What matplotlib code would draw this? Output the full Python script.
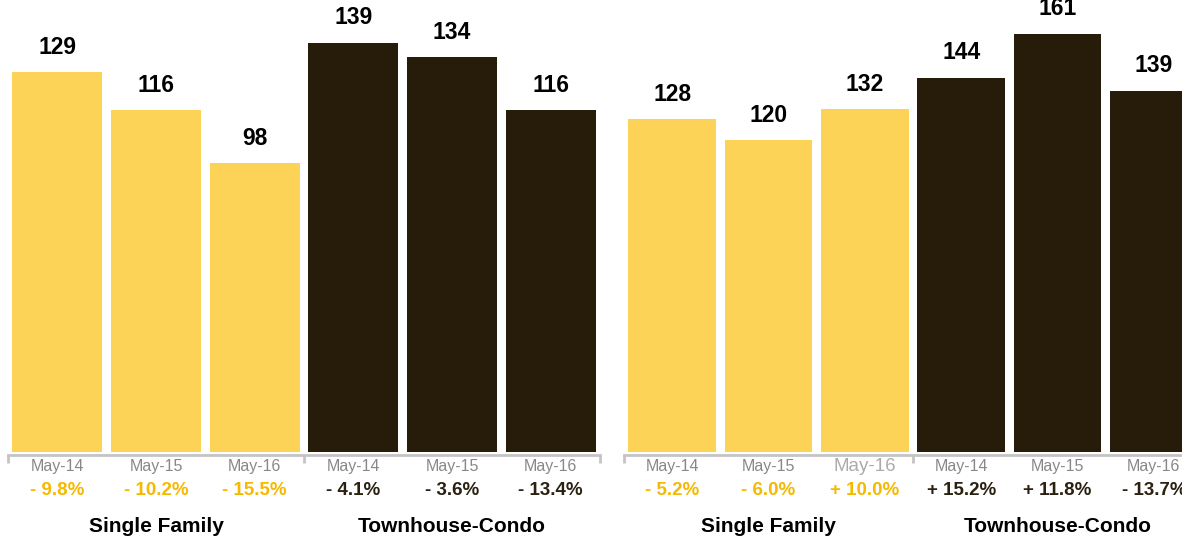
import matplotlib
matplotlib.use("Agg")
import matplotlib.pyplot as plt

plt.rcParams['font.family'] = ['Liberation Sans', 'DejaVu Sans']

months = ["May-14", "May-15", "May-16"]
groups = ["Single Family", "Townhouse-Condo"]

left_single = [129, 116, 98]
left_condo = [139, 134, 116]
left_single_pct = ["- 9.8%", "- 10.2%", "- 15.5%"]
left_condo_pct = ["- 4.1%", "- 3.6%", "- 13.4%"]

right_single = [128, 120, 132]
right_condo = [144, 161, 139]
right_single_pct = ["- 5.2%", "- 6.0%", "+ 10.0%"]
right_condo_pct = ["+ 15.2%", "+ 11.8%", "- 13.7%"]

yellow = "#fdd357"
dark = "#261c09"
yellow_text = "#f7b800"
dark_text = "#2a2110"
gray = "#888888"

W, H = 1182, 542
fig = plt.figure(figsize=(W / 100, H / 100), dpi=100)


def panel(x0, x1, single, condo, single_pct, condo_pct, ymax, odd_tick=None):
  ax = fig.add_axes([x0 / W, (H - 455) / H, (x1 - x0) / W, 455 / H])
  vals = single + condo
  colors = [yellow] * len(single) + [dark] * len(condo)
  xs = list(range(len(vals)))
  ax.bar(xs, vals, width=0.91, color=colors)
  ax.set_xlim(-0.5, len(vals) - 0.5)
  ax.set_ylim(-ymax * 0.0066, ymax)
  for s in ["top", "left", "right"]:
    ax.spines[s].set_visible(False)
  ax.spines["bottom"].set_color("#c4c4c4")
  ax.spines["bottom"].set_linewidth(2)
  ax.set_yticks([])
  ax.set_xticks([-0.5, 2.5, 5.5])
  ax.set_xticklabels([])
  ax.tick_params(axis="x", length=6, width=2, color="#c4c4c4")
  tr = ax.get_xaxis_transform()
  for i, v in enumerate(vals):
    ax.annotate(str(v), (i, v), xytext=(0, 18), textcoords="offset points",
                ha="center", va="center", fontsize=16.5, fontweight="bold", color="black")
    lbl_color, lbl_size = gray, 11.5
    if odd_tick == i:
      lbl_color, lbl_size = "#ababab", 13.5
    ax.text(i, -0.025, months[i % 3], transform=tr, ha="center", va="center",
            fontsize=lbl_size, color=lbl_color)
  pcts = single_pct + condo_pct
  for i, p in enumerate(pcts):
    c = yellow_text if i < len(single) else dark_text
    ax.text(i, -0.079, p, transform=tr, ha="center", va="center",
            fontsize=13.5, fontweight="bold", color=c)
  ax.text(1, -0.158, groups[0], transform=tr, ha="center", va="center",
          fontsize=15, fontweight="bold", color="black")
  ax.text(4, -0.158, groups[1], transform=tr, ha="center", va="center",
          fontsize=15, fontweight="bold", color="black")
  return ax


panel(8, 600, left_single, left_condo, left_single_pct, left_condo_pct, 153.5)
panel(624, 1202, right_single, right_condo, right_single_pct, right_condo_pct, 174, odd_tick=2)

fig.savefig("out.png", dpi=100)
